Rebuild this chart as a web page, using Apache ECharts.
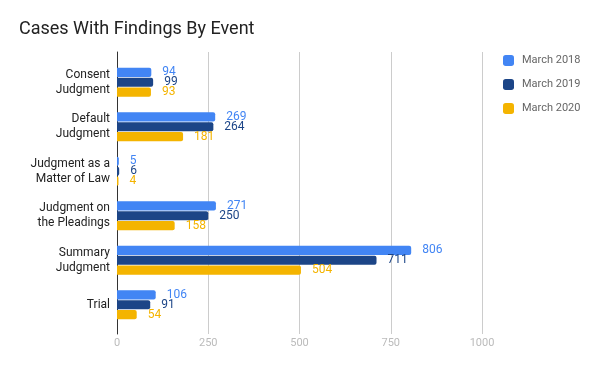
<!DOCTYPE html>
<html>
<head>
<meta charset="utf-8">
<script src="https://cdn.jsdelivr.net/npm/echarts@6/dist/echarts.min.js"></script>
<style>html,body{margin:0;padding:0;background:#fff}#c{width:600px;height:371px}</style>
</head>
<body>
<div id="c"></div>
<script>
const categories = ["Consent\nJudgment", "Default\nJudgment", "Judgment as a\nMatter of Law", "Judgment on\nthe Pleadings", "Summary\nJudgment", "Trial"];
const seriesNames = ["March 2018", "March 2019", "March 2020"];
const march2018 = [94, 269, 5, 271, 806, 106];
const march2019 = [99, 264, 6, 250, 711, 91];
const march2020 = [93, 181, 4, 158, 504, 54];
const xTicks = [0, 250, 500, 750, 1000];
const colors = ["#4285f4", "#1c4587", "#f4b400"];

const chart = echarts.init(document.getElementById('c'));
const font = 'Roboto, "Noto Sans", sans-serif';
const allData = [march2018, march2019, march2020];
chart.setOption({
  animation: false,
  textStyle: { fontFamily: font },
  title: {
    text: "Cases With Findings By Event",
    left: 14, top: 15,
    textStyle: { fontFamily: font, fontSize: 18, fontWeight: 'normal', color: '#222' }
  },
  legend: {
    orient: 'vertical',
    left: 498, top: 50,
    itemWidth: 11, itemHeight: 11, itemGap: 13,
    icon: 'roundRect',
    data: seriesNames,
    textStyle: { fontFamily: font, fontSize: 11, color: '#666', padding: [0, 0, 0, 3] }
  },
  grid: [
    { left: 117, right: 118, top: 52, bottom: 37 },
    { left: 117, right: 118, top: 60, bottom: 44 }
  ],
  xAxis: [
    {
      gridIndex: 0, type: 'value', min: xTicks[0], max: xTicks[xTicks.length - 1], interval: 250,
      axisLine: { show: false }, axisTick: { show: false },
      splitLine: { lineStyle: { color: '#cccccc', width: 1 } },
      axisLabel: { color: '#bbbbbb', fontSize: 11, fontFamily: font, margin: 4, formatter: v => String(v) }
    },
    {
      gridIndex: 1, type: 'value', min: xTicks[0], max: xTicks[xTicks.length - 1], interval: 250,
      show: false, splitLine: { show: false }
    }
  ],
  yAxis: [
    {
      gridIndex: 0, type: 'category', data: categories, inverse: true,
      axisLine: { show: true, lineStyle: { color: '#333', width: 1 } },
      axisTick: { show: false }, axisLabel: { show: false }, splitLine: { show: false }
    },
    {
      gridIndex: 1, type: 'category', data: categories, inverse: true,
      axisLine: { show: false }, axisTick: { show: false },
      axisLabel: { color: '#222', fontSize: 12, fontFamily: font, lineHeight: 15, margin: 7, align: 'right' }
    }
  ],
  series: seriesNames.map((name, i) => ({
    name: name,
    type: 'bar',
    xAxisIndex: 1, yAxisIndex: 1,
    data: allData[i],
    barCategoryGap: '35%',
    barGap: '8%',
    itemStyle: { color: colors[i], borderRadius: [0, 2, 2, 0] },
    label: {
      show: true, position: 'right', distance: 11,
      color: colors[i], fontSize: 12, fontFamily: font
    }
  }))
});
</script>
</body>
</html>
